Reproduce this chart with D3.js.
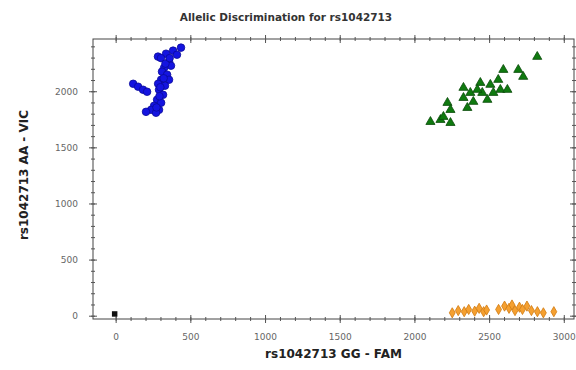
<!DOCTYPE html>
<html>
<head>
<meta charset="utf-8">
<script src="https://cdn.jsdelivr.net/npm/d3@7"></script>
<style>
  html, body { margin: 0; padding: 0; background: #fff; }
  #viz { width: 576px; height: 370px; }
  text { font-family: "DejaVu Sans", Verdana, sans-serif; }
</style>
</head>
<body>
<div id="viz"></div>
<script>
// values (FAM signal, VIC signal)
const vicPoints = [
  [280, 2313], [334, 2339], [381, 2366], [434, 2393], [407, 2330], [300, 2300],
  [354, 2268], [367, 2232], [321, 2214], [307, 2179], [341, 2152], [354, 2107],
  [301, 2107], [281, 2071], [327, 2054], [287, 2018], [314, 1973], [274, 1929],
  [301, 1902], [254, 1875], [234, 1839], [287, 1839], [200, 1821], [267, 1813],
  [330, 2250], [318, 2120], [296, 2040], [290, 1960], [270, 1860], [358, 2300],
  [114, 2071], [147, 2045], [180, 2018], [207, 2000]
];
const hetPoints = [
  [2819, 2312], [2692, 2196], [2725, 2134], [2592, 2196], [2558, 2107], [2572, 2018],
  [2505, 2063], [2438, 2080], [2451, 1991], [2485, 1929], [2325, 2036], [2371, 1991],
  [2325, 1946], [2391, 1911], [2351, 1857], [2218, 1902], [2238, 1839], [2104, 1732],
  [2171, 1750], [2238, 1723], [2191, 1777], [2525, 1991], [2619, 2018], [2418, 2018]
];
const famPoints = [
  [2250, 30], [2290, 50], [2330, 40], [2360, 60], [2400, 45], [2430, 70], [2460, 40],
  [2480, 55], [2560, 60], [2600, 90], [2630, 70], [2650, 100], [2670, 50], [2700, 80],
  [2720, 60], [2750, 90], [2780, 50], [2820, 40], [2860, 30], [2930, 40]
];
const ntcPoints = [[-10, 20]];

const xTicks = [0, 500, 1000, 1500, 2000, 2500, 3000];
const yTicks = [0, 500, 1000, 1500, 2000];
const minorStep = 100;

const title = "Allelic Discrimination for rs1042713";
const xLabel = "rs1042713  GG - FAM";
const yLabel = "rs1042713  AA - VIC";

const W = 576, H = 370;
const svg = d3.select("#viz").append("svg").attr("width", W).attr("height", H);

const x = d3.scaleLinear().domain([-155, 3065]).range([93, 574]);
const y = d3.scaleLinear().domain([-25, 2470]).range([319, 39]);

const xMinor = d3.range(0, 3001, minorStep);
const yMinor = d3.range(0, 2401, minorStep);

// frame
svg.append("rect")
  .attr("x", x.range()[0]).attr("y", y.range()[1])
  .attr("width", x.range()[1] - x.range()[0])
  .attr("height", y.range()[0] - y.range()[1])
  .attr("fill", "none").attr("stroke", "#444").attr("stroke-width", 1);

// ticks crossing the frame on all four sides
function tickLinesX(vals, len) {
  const gg = svg.append("g").attr("stroke", "#555").attr("stroke-width", 1);
  vals.forEach(v => {
    gg.append("line").attr("x1", x(v)).attr("x2", x(v)).attr("y1", y.range()[0] - len).attr("y2", y.range()[0] + len);
    gg.append("line").attr("x1", x(v)).attr("x2", x(v)).attr("y1", y.range()[1] - len).attr("y2", y.range()[1] + len);
  });
}
function tickLinesY(vals, len) {
  const gg = svg.append("g").attr("stroke", "#555").attr("stroke-width", 1);
  vals.forEach(v => {
    gg.append("line").attr("y1", y(v)).attr("y2", y(v)).attr("x1", x.range()[0] - len).attr("x2", x.range()[0] + len);
    gg.append("line").attr("y1", y(v)).attr("y2", y(v)).attr("x1", x.range()[1] - len).attr("x2", x.range()[1] + len);
  });
}
tickLinesX(xMinor, 2);
tickLinesX(xTicks, 4);
tickLinesY(yMinor, 2);
tickLinesY(yTicks, 4);

// tick labels
svg.append("g").selectAll("text").data(xTicks).join("text")
  .attr("x", d => x(d)).attr("y", 340)
  .attr("text-anchor", "middle")
  .attr("font-size", 9).attr("fill", "#666")
  .text(d => d);

svg.append("g").selectAll("text").data(yTicks).join("text")
  .attr("x", 78).attr("y", d => y(d)).attr("dy", "0.35em")
  .attr("text-anchor", "end")
  .attr("font-size", 9).attr("fill", "#666")
  .text(d => d);

// titles
svg.append("text")
  .attr("x", 286).attr("y", 21)
  .attr("text-anchor", "middle")
  .attr("font-size", 10.5).attr("font-weight", "bold").attr("fill", "#333")
  .text(title);

svg.append("text")
  .attr("x", (x.range()[0] + x.range()[1]) / 2).attr("y", 358)
  .attr("text-anchor", "middle")
  .attr("font-size", 12).attr("font-weight", "bold").attr("fill", "#222")
  .text(xLabel);

svg.append("text")
  .attr("transform", `translate(28,${(y.range()[0] + y.range()[1]) / 2 - 4}) rotate(-90)`)
  .attr("text-anchor", "middle")
  .attr("font-size", 12).attr("font-weight", "bold").attr("fill", "#222")
  .text(yLabel);

// points
const pts = svg.append("g");

pts.append("g").selectAll("path").data(famPoints).join("path")
  .attr("transform", d => `translate(${x(d[0])},${y(d[1])})`)
  .attr("d", d3.symbol().type(d3.symbolDiamond).size(30))
  .attr("fill", "#f5a030").attr("stroke", "#d07a10").attr("stroke-width", 0.8);

pts.append("g").selectAll("path").data(hetPoints).join("path")
  .attr("transform", d => `translate(${x(d[0])},${y(d[1])})`)
  .attr("d", d3.symbol().type(d3.symbolTriangle).size(36))
  .attr("fill", "#0f7a0f").attr("stroke", "#0a4a0a").attr("stroke-width", 0.8);

pts.append("g").selectAll("circle").data(vicPoints).join("circle")
  .attr("cx", d => x(d[0])).attr("cy", d => y(d[1])).attr("r", 3.8)
  .attr("fill", "#1414e0").attr("stroke", "#0a0a99").attr("stroke-width", 0.8);

pts.append("g").selectAll("path").data(ntcPoints).join("path")
  .attr("transform", d => `translate(${x(d[0])},${y(d[1])})`)
  .attr("d", d3.symbol().type(d3.symbolSquare).size(30))
  .attr("fill", "#111");
</script>
</body>
</html>
